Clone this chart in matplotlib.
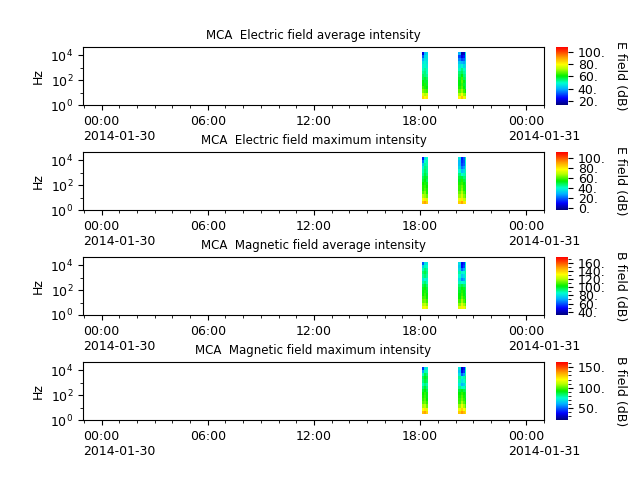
"""
    MCA spectrogram summary plot: electric and magnetic field intensity
    for 2014-01-30, four stacked panels each with its own colorbar.
"""

import datetime as dt
import numpy as np
import matplotlib
matplotlib.use('Agg')
import matplotlib.pyplot as plt
import matplotlib.dates as mdates
from matplotlib.colors import LinearSegmentedColormap
from matplotlib.ticker import FormatStrFormatter, MultipleLocator

# frequency channel edges (Hz), bottom to top
freq_edges = [3, 5.6, 10, 18, 32, 56, 100, 180, 320, 560, 1000, 1800, 3200, 5600, 10000, 18000]

# time edges of the two bursts of data
burst1_edges = [dt.datetime(2014, 1, 30, 18, 6), dt.datetime(2014, 1, 30, 18, 13),
                dt.datetime(2014, 1, 30, 18, 20), dt.datetime(2014, 1, 30, 18, 26)]
burst2_edges = [dt.datetime(2014, 1, 30, 20, 10), dt.datetime(2014, 1, 30, 20, 17),
                dt.datetime(2014, 1, 30, 20, 24), dt.datetime(2014, 1, 30, 20, 31),
                dt.datetime(2014, 1, 30, 20, 36)]

# intensity (dB), one row per frequency channel (bottom to top):
# 3 columns of burst 1 then 4 columns of burst 2
e_avg = [
    [84, 80, 82, 80, 86, 78, 76],
    [76, 72, 74, 72, 78, 70, 68],
    [68, 66, 64, 66, 70, 64, 60],
    [64, 62, 60, 62, 66, 60, 56],
    [60, 62, 58, 60, 64, 58, 56],
    [60, 58, 58, 60, 66, 60, 56],
    [56, 58, 55, 58, 64, 56, 54],
    [55, 54, 52, 56, 60, 54, 52],
    [52, 54, 50, 54, 56, 52, 50],
    [50, 52, 50, 50, 54, 50, 48],
    [48, 50, 47, 46, 48, 44, 46],
    [46, 48, 46, 42, 40, 38, 44],
    [40, 46, 45, 36, 30, 32, 42],
    [32, 44, 45, 30, 22, 26, 44],
    [22, 40, 44, 40, 18, 20, 46],
]
e_max = [
    [86, 90, 84, 84, 90, 82, 80],
    [76, 80, 72, 74, 80, 70, 68],
    [68, 66, 62, 66, 72, 64, 60],
    [60, 64, 56, 62, 68, 60, 56],
    [56, 60, 56, 58, 64, 56, 52],
    [56, 58, 54, 58, 62, 56, 52],
    [54, 56, 52, 56, 58, 54, 50],
    [50, 54, 48, 52, 56, 50, 48],
    [48, 52, 50, 50, 50, 46, 46],
    [44, 50, 46, 46, 40, 42, 44],
    [42, 48, 44, 40, 30, 34, 42],
    [38, 46, 44, 34, 22, 26, 40],
    [32, 44, 42, 30, 16, 20, 38],
    [22, 40, 42, 30, 14, 18, 40],
    [12, 36, 40, 36, 12, 20, 42],
]
b_avg = [
    [128, 132, 126, 126, 134, 128, 122],
    [120, 122, 116, 116, 126, 118, 112],
    [112, 114, 108, 108, 118, 110, 104],
    [108, 110, 104, 104, 112, 106, 100],
    [104, 108, 102, 102, 108, 102, 98],
    [102, 106, 100, 100, 106, 102, 96],
    [100, 104, 98, 98, 102, 100, 96],
    [96, 100, 94, 94, 98, 94, 92],
    [90, 94, 88, 88, 86, 84, 88],
    [82, 86, 84, 80, 66, 70, 84],
    [90, 94, 90, 86, 76, 80, 88],
    [94, 98, 92, 90, 84, 86, 90],
    [88, 94, 90, 80, 62, 70, 88],
    [78, 88, 86, 76, 50, 58, 86],
    [60, 80, 82, 80, 48, 54, 84],
]
b_max = [
    [132, 136, 128, 130, 138, 132, 126],
    [120, 124, 116, 118, 128, 120, 114],
    [108, 110, 102, 106, 118, 108, 100],
    [100, 102, 96, 98, 108, 100, 94],
    [96, 100, 92, 96, 102, 96, 90],
    [94, 98, 90, 94, 100, 94, 88],
    [92, 96, 90, 92, 96, 92, 88],
    [88, 92, 86, 88, 90, 86, 84],
    [82, 88, 82, 80, 76, 76, 80],
    [76, 82, 78, 72, 62, 66, 76],
    [82, 88, 84, 78, 70, 74, 80],
    [84, 90, 86, 80, 74, 78, 82],
    [76, 86, 82, 70, 50, 58, 78],
    [60, 78, 76, 64, 36, 44, 76],
    [44, 70, 72, 70, 30, 40, 74],
]

titles = ['MCA  Electric field average intensity', 'MCA  Electric field maximum intensity',
          'MCA  Magnetic field average intensity', 'MCA  Magnetic field maximum intensity']
cbar_labels = ['E field (dB)', 'E field (dB)', 'B field (dB)', 'B field (dB)']
color_ranges = [(13, 108), (-4, 112), (32, 174), (21, 163)]
cbar_major = [20, 20, 20, 50]
cbar_minor = [20, 20, 10, 10]
panels = [e_avg, e_max, b_avg, b_max]

# rainbow colormap, dark blue -> red
spec_cmap = LinearSegmentedColormap.from_list('spec', [
    (0.00, '#00007a'), (0.12, '#0000ff'), (0.28, '#00b4ff'), (0.38, '#00ffd0'),
    (0.50, '#00f000'), (0.62, '#b4ff00'), (0.70, '#ffff00'), (0.82, '#ffa000'),
    (0.92, '#ff4000'), (1.00, '#ff0000')])

plt.rcParams['font.size'] = 9

fig = plt.figure(figsize=(6.4, 4.8), dpi=100)

# one time axis with a NaN column for the gap between bursts
time_edges = mdates.date2num(burst1_edges + burst2_edges)
x_start = dt.datetime(2014, 1, 29, 22, 57)
x_end = dt.datetime(2014, 1, 31, 1, 0)
day0 = dt.datetime(2014, 1, 30)
day1 = dt.datetime(2014, 1, 31)

bottoms = [0.78125, 0.5625, 0.34375, 0.125]
for i, data in enumerate(panels):
    ax = fig.add_axes([0.1297, bottoms[i], 0.7203, 0.1208])
    cax = fig.add_axes([0.86875, bottoms[i], 0.01875, 0.1208])

    vals = np.array(data, dtype=float)
    gap = np.full((vals.shape[0], 1), np.nan)
    vals = np.hstack([vals[:, :3], gap, vals[:, 3:]])
    vals = np.ma.masked_invalid(vals)

    vmin, vmax = color_ranges[i]
    mesh = ax.pcolormesh(time_edges, freq_edges, vals, cmap=spec_cmap,
                         vmin=vmin, vmax=vmax, shading='flat')

    ax.set_yscale('log')
    ax.set_ylim(1, 4.4e4)
    ax.set_yticks([1, 1e2, 1e4])
    ax.set_yticks([10, 1e3], minor=True)
    ax.set_yticklabels([], minor=True)
    ax.set_ylabel('Hz')

    ax.set_xlim(x_start, x_end)
    ax.xaxis.set_major_locator(mdates.HourLocator(byhour=range(0, 24, 6)))
    ax.xaxis.set_minor_locator(mdates.HourLocator())
    ax.xaxis.set_major_formatter(mdates.DateFormatter('%H:%M'))

    # dates below the midnight ticks
    for day in [day0, day1]:
        ax.annotate(day.strftime('%Y-%m-%d'), xy=(mdates.date2num(day), 0),
                    xycoords=('data', 'axes fraction'), xytext=(-13, -18),
                    textcoords='offset points', ha='left', va='top', fontsize=9)

    ax.set_title(titles[i], fontsize=8.5)

    cb = fig.colorbar(mesh, cax=cax)
    cb.outline.set_visible(False)
    cb.ax.yaxis.set_major_locator(MultipleLocator(cbar_major[i]))
    cb.ax.yaxis.set_minor_locator(MultipleLocator(cbar_minor[i]))
    cb.ax.yaxis.set_major_formatter(FormatStrFormatter('%d.'))

    fig.text(620 / 640, bottoms[i] + 0.0604, cbar_labels[i], rotation=270,
             ha='center', va='center', fontsize=9)

fig.savefig('out.png', dpi=100)
